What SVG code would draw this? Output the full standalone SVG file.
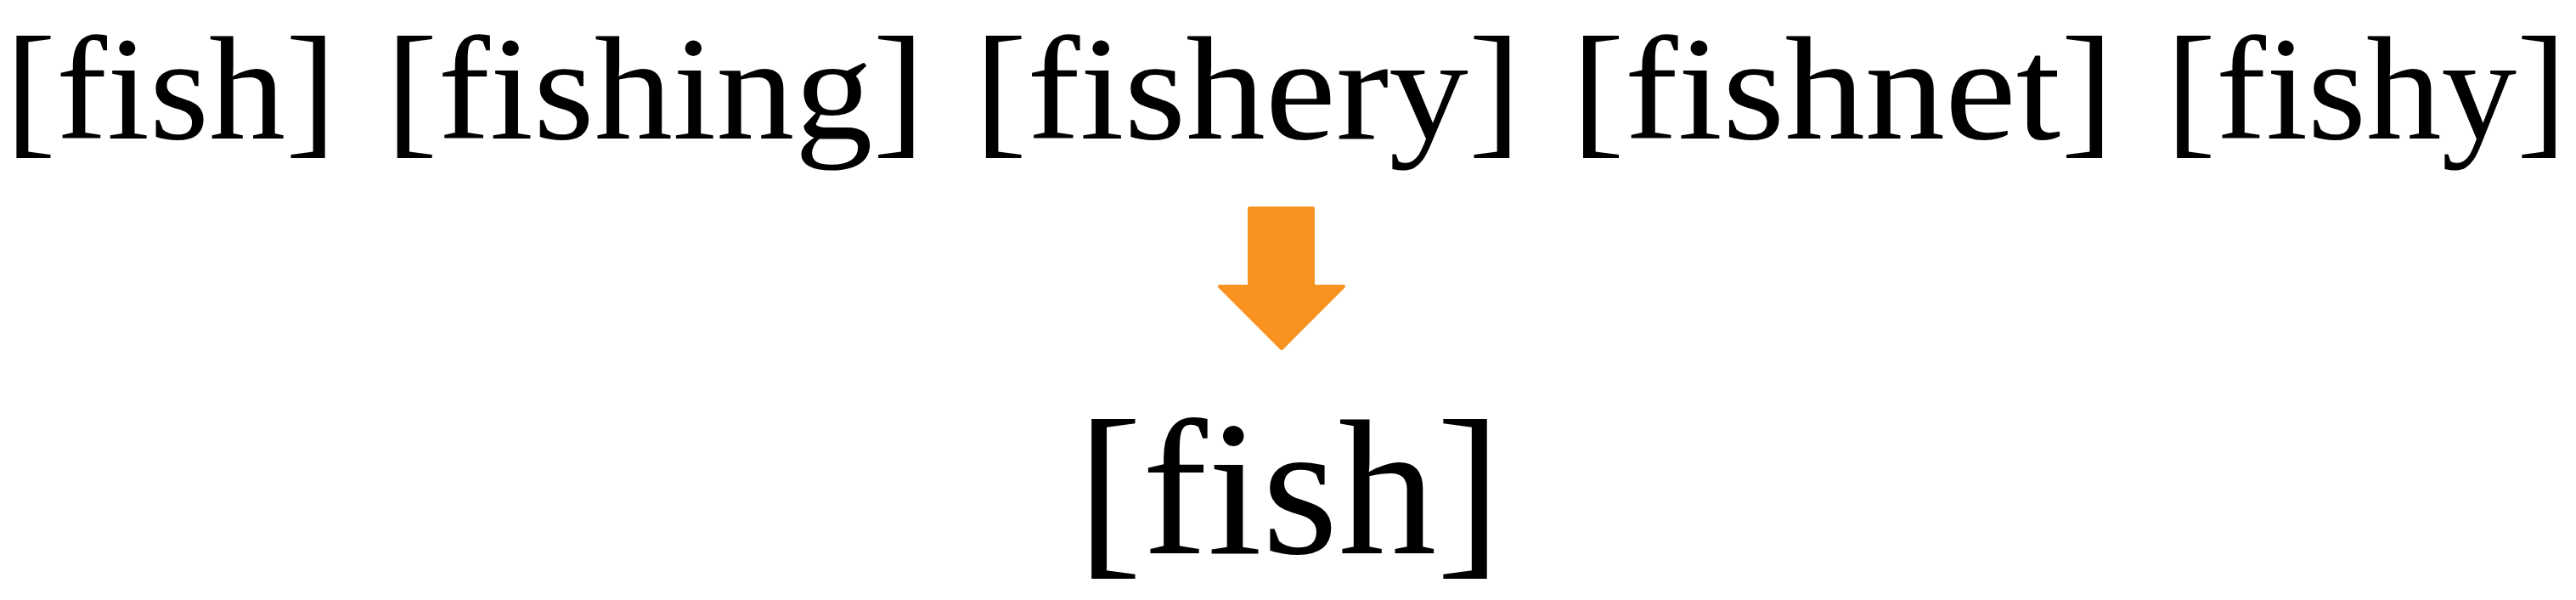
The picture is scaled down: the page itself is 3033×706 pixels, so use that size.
<svg xmlns="http://www.w3.org/2000/svg" width="3033" height="706" viewBox="0 0 3033 706">
<style>
.w{font-family:"Liberation Serif","Times New Roman",serif;fill:#000;font-variant-ligatures:common-ligatures;font-feature-settings:"liga" 1;}
.top{font-size:174px;}
.bot{font-size:226px;}
.arr{fill:#F7931E;stroke:#F7931E;stroke-width:4;stroke-linejoin:round;}
</style>
<rect width="3033" height="706" fill="#ffffff"/>
<g id="word-fish"><text class="w top" x="6" y="163" textLength="390" lengthAdjust="spacingAndGlyphs">[fish]</text></g>
<g id="word-fishing"><text class="w top" x="454" y="163" textLength="635" lengthAdjust="spacingAndGlyphs">[fishing]</text></g>
<g id="word-fishery"><text class="w top" x="1147" y="163" textLength="644" lengthAdjust="spacingAndGlyphs">[fishery]</text></g>
<g id="word-fishnet"><text class="w top" x="1850" y="163" textLength="639" lengthAdjust="spacingAndGlyphs">[fishnet]</text></g>
<g id="word-fishy"><text class="w top" x="2550" y="163" textLength="472" lengthAdjust="spacingAndGlyphs">[fishy]</text></g>
<g id="connectors"><path class="arr" d="M1471,245 L1546,245 L1546,337 L1582,337 L1509,410 L1436,337 L1471,337 Z"/></g>
<g id="result-fish"><text class="w bot" x="1268" y="651" textLength="500" lengthAdjust="spacingAndGlyphs">[fish]</text></g>
</svg>
